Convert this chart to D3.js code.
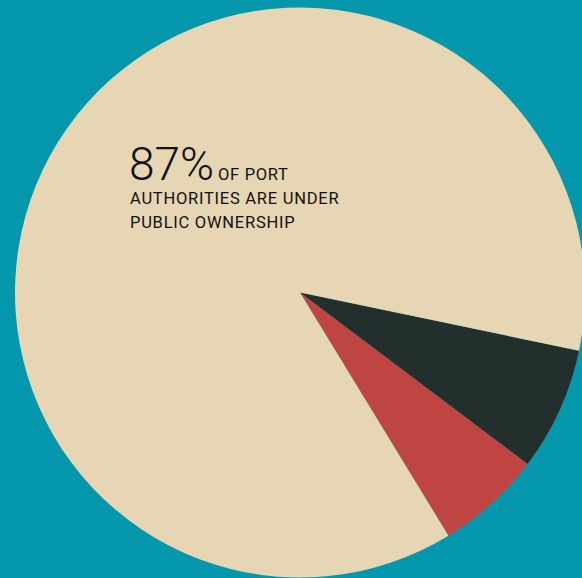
<!DOCTYPE html>
<html>
<head>
<meta charset="utf-8">
<script src="https://cdn.jsdelivr.net/npm/d3@7"></script>
<style>
  html, body { margin: 0; padding: 0; background: #0597ab; }
  svg { display: block; }
</style>
</head>
<body>
<svg id="chart" width="582" height="578"></svg>
<script>
// Ownership of port authorities (percent)
const categories = ["Private", "Mixed", "Public"];
const shares = [7, 6, 87];
const colors = ["#232f2d", "#be4541", "#e6d6b4"];

const width = 582, height = 578;
const cx = 300, cy = 292.5, radius = 285;

const svg = d3.select("#chart");

svg.append("rect")
  .attr("width", width).attr("height", height)
  .attr("fill", "#0597ab");

const pie = d3.pie()
  .sort(null)
  .value(d => d)
  .startAngle(101.8 * Math.PI / 180)
  .endAngle(101.8 * Math.PI / 180 + 2 * Math.PI);

const arc = d3.arc().innerRadius(0).outerRadius(radius);

const color = d3.scaleOrdinal().domain(categories).range(colors);

svg.append("g")
  .attr("transform", `translate(${cx},${cy})`)
  .selectAll("path")
  .data(pie(shares))
  .join("path")
  .attr("d", arc)
  .attr("fill", (d, i) => color(categories[i]));

// Headline label for the public share
const label = svg.append("g").attr("fill", "#111111");

const first = label.append("text")
  .attr("x", 129)
  .attr("y", 179.5)
  .style("font-family", "Roboto, 'Open Sans', sans-serif");

first.append("tspan")
  .style("font-size", "46px")
  .style("font-weight", 300)
  .text(`${shares[2]}%`);

first.append("tspan")
  .attr("dx", 4)
  .style("font-size", "16.5px")
  .style("font-weight", 400)
  .style("letter-spacing", "0.7px")
  .text("OF PORT");

label.selectAll("text.line")
  .data(["AUTHORITIES ARE UNDER", "PUBLIC OWNERSHIP"])
  .join("text")
  .attr("class", "line")
  .attr("x", 130)
  .attr("y", (d, i) => 204 + i * 24.3)
  .style("font-family", "Roboto, 'Open Sans', sans-serif")
  .style("font-size", "16.5px")
  .style("letter-spacing", "0.75px")
  .text(d => d);
</script>
</body>
</html>
